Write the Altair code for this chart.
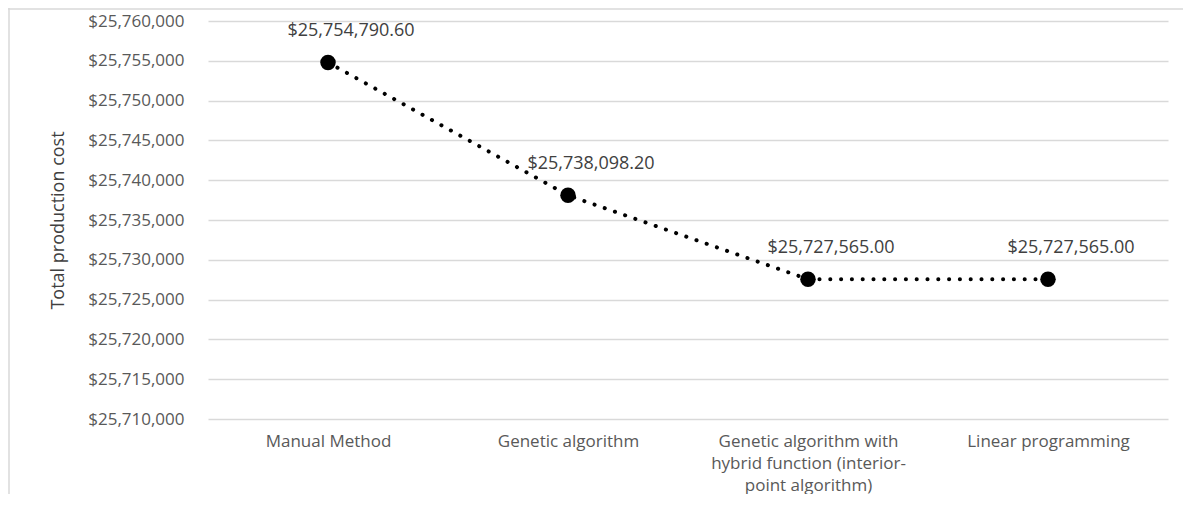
import altair as alt
import pandas as pd

methods = [
    "Manual Method",
    "Genetic algorithm",
    "Genetic algorithm with hybrid function (interior-point algorithm)",
    "Linear programming",
]
costs = [25754790.60, 25738098.20, 25727565.00, 25727565.00]
y_ticks = [25710000, 25715000, 25720000, 25725000, 25730000, 25735000,
           25740000, 25745000, 25750000, 25755000, 25760000]
y_title = "Total production cost"

df = pd.DataFrame({"method": methods, "cost": costs})

FONT = "Open Sans"
label_expr = (
    "datum.value == 'Genetic algorithm with hybrid function (interior-point algorithm)'"
    " ? ['Genetic algorithm with', 'hybrid function (interior-', 'point algorithm)']"
    " : datum.value"
)

x_enc = alt.X(
    "method:N",
    sort=methods,
    scale=alt.Scale(type="point", padding=0.5),
    axis=alt.Axis(
        title=None, labelAngle=0, domain=False, ticks=False, grid=False,
        labelFont=FONT, labelFontSize=17, labelColor="#595959",
        labelPadding=14, labelLineHeight=22, labelExpr=label_expr,
        labelBaseline="top", labelLimit=400,
    ),
)
y_enc = alt.Y(
    "cost:Q",
    scale=alt.Scale(domain=[25710000, 25760000], nice=False, zero=False),
    axis=alt.Axis(
        values=y_ticks, format="$,.0f", title=y_title,
        domain=False, ticks=False, grid=True, gridColor="#d9d9d9", gridWidth=1.5,
        labelFont=FONT, labelFontSize=17, labelColor="#595959", labelPadding=24,
        titleFont=FONT, titleFontSize=18, titleFontWeight="normal", titleColor="#404040",
        titleAngle=270, titleX=-150, titleY=199, titleAlign="center", titleBaseline="middle",
    ),
)

base = alt.Chart(df).encode(x=x_enc, y=y_enc)

line = base.mark_line(
    color="black", strokeWidth=4, strokeDash=[0.1, 10.7], strokeCap="round"
)
points = base.mark_point(filled=True, shape="circle", size=240, color="black", opacity=1)
labels = base.mark_text(
    font=FONT, fontSize=18, color="#404040", dx=23, dy=-31, baseline="middle", align="center"
).encode(text=alt.Text("cost:Q", format="$,.2f"))

frame = alt.Chart(pd.DataFrame({"a": [0]}))
top_border = frame.mark_rule(color="#d9d9d9", strokeWidth=1.5).encode(
    x=alt.value(-200), x2=alt.value(980), y=alt.value(-12)
)
left_border = frame.mark_rule(color="#d9d9d9", strokeWidth=1.5).encode(
    x=alt.value(-199), y=alt.value(-13), y2=alt.value(490)
)

chart = alt.layer(top_border, left_border, line, points, labels).properties(
    width=960,
    height=398,
    autosize=alt.AutoSizeParams(type="none"),
    padding={"left": 200, "top": 13, "right": 15, "bottom": 75},
).configure_view(stroke=None)

chart.save("out.html", embed_options={"renderer": "svg", "actions": False})
